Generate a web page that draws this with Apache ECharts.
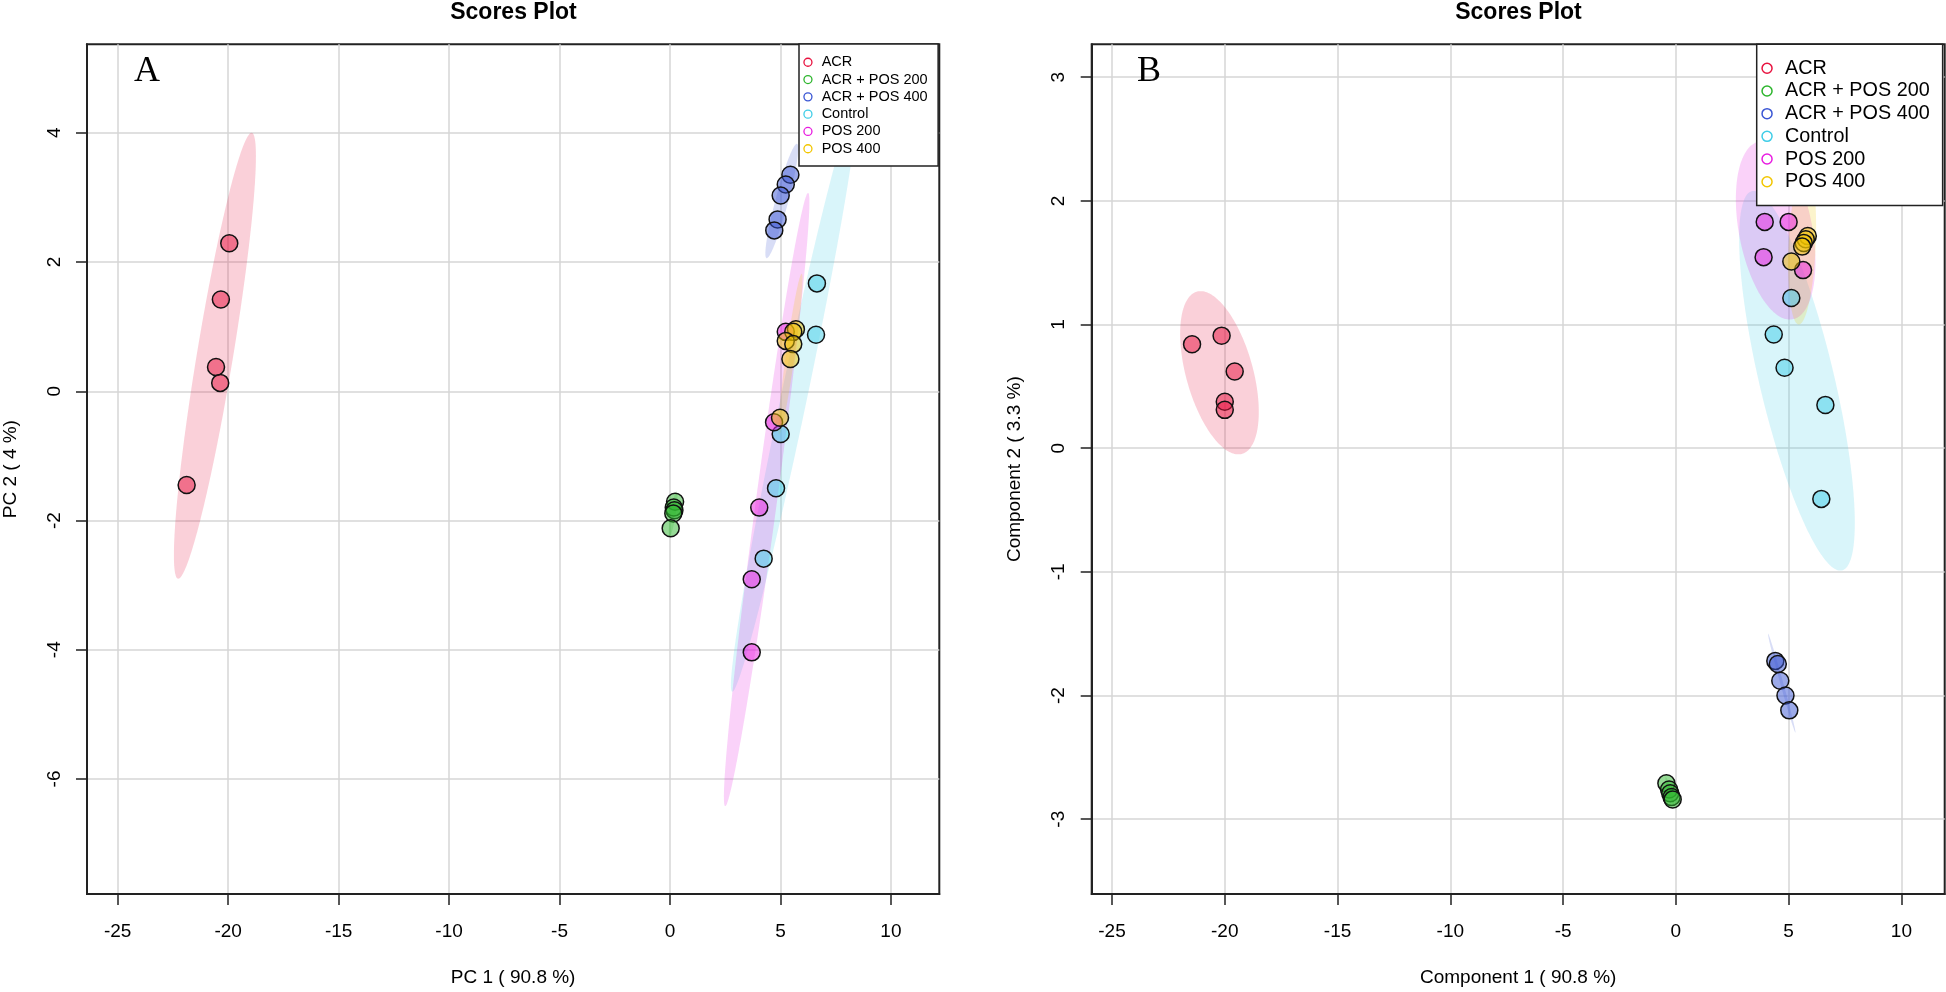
<!DOCTYPE html>
<html><head><meta charset="utf-8">
<script src="https://cdn.jsdelivr.net/npm/echarts@6/dist/echarts.min.js"></script>
<style>html,body{margin:0;padding:0;background:#fff}#c{width:1946px;height:992px}</style>
</head><body><div id="c"></div>
<script>
// ---------- data ----------
const groups = ['ACR', 'ACR + POS 200', 'ACR + POS 400', 'Control', 'POS 200', 'POS 400'];
const colors = ['#E8123F', '#2DB52D', '#3A56D4', '#3FCDE7', '#E81CE0', '#F2C600'];

const xTicks = [-25, -20, -15, -10, -5, 0, 5, 10];
const yTicksA = [-6, -4, -2, 0, 2, 4];
const yTicksB = [-3, -2, -1, 0, 1, 2, 3];

// Panel A: PCA scores [PC1, PC2]
const pcaACR        = [[-19.95, 2.29], [-20.33, 1.42], [-20.55, 0.375], [-20.36, 0.13], [-21.88, -1.45]];
const pcaACRPOS200  = [[0.23, -1.71], [0.17, -1.80], [0.20, -1.84], [0.15, -1.89], [0.03, -2.12]];
const pcaACRPOS400  = [[5.45, 3.35], [5.24, 3.20], [5.01, 3.03], [4.87, 2.66], [4.72, 2.49]];
const pcaControl    = [[6.65, 1.67], [6.61, 0.875], [5.01, -0.66], [4.80, -1.50], [4.24, -2.59]];
const pcaPOS200     = [[5.24, 0.92], [4.71, -0.48], [4.04, -1.80], [3.70, -2.91], [3.70, -4.04]];
const pcaPOS400     = [[5.70, 0.96], [5.58, 0.92], [5.24, 0.78], [5.58, 0.73], [5.45, 0.50], [4.98, -0.41]];

// Panel A ellipses: [topX, topY, bottomX, bottomY, horizontal half-width]
const pcaEllACR       = [-18.94, 4.00, -22.26, -2.90, 0.83];
const pcaEllACRPOS200 = [0.30, -1.55, -0.02, -2.25, 0.12];
const pcaEllACRPOS400 = [5.74, 3.83, 4.38, 2.06, 0.30];
const pcaEllControl   = [8.40, 4.45, 2.82, -4.65, 0.60];
const pcaEllPOS200    = [6.25, 3.07, 2.50, -6.42, 0.48];
const pcaEllPOS400    = [5.96, 1.82, 4.94, -0.67, 0.20];

// Panel B: PLS-DA scores [Component 1, Component 2]
const plsACR        = [[-21.45, 0.84], [-20.14, 0.91], [-19.56, 0.62], [-20.0, 0.376], [-20.0, 0.31]];
const plsACRPOS200  = [[-0.42, -2.71], [-0.30, -2.76], [-0.25, -2.79], [-0.19, -2.82], [-0.14, -2.84]];
const plsACRPOS400  = [[4.41, -1.72], [4.52, -1.745], [4.63, -1.88], [4.86, -2.00], [5.03, -2.12]];
const plsControl    = [[5.12, 1.215], [4.34, 0.92], [4.82, 0.65], [6.63, 0.35], [6.45, -0.41]];
const plsPOS200     = [[3.94, 1.83], [5.00, 1.83], [3.89, 1.545], [5.64, 1.44]];
const plsPOS400     = [[5.85, 1.715], [5.76, 1.69], [5.67, 1.66], [5.60, 1.63], [5.12, 1.51]];

const plsEllACR       = [-21.07, 1.27, -19.40, -0.05, 1.53];
const plsEllACRPOS200 = [-0.45, -2.66, -0.08, -2.89, 0.08];
const plsEllACRPOS400 = [4.09, -1.50, 5.30, -2.30, 0.07];
const plsEllControl   = [3.45, 2.08, 7.29, -0.99, 1.70];
const plsEllPOS200    = [3.80, 2.48, 5.05, 1.04, 1.65];
const plsEllPOS400    = [5.75, 2.28, 5.45, 1.00, 0.60];

const pcaPoints = [pcaACR, pcaACRPOS200, pcaACRPOS400, pcaControl, pcaPOS200, pcaPOS400];
const pcaElls = [pcaEllACR, pcaEllACRPOS200, pcaEllACRPOS400, pcaEllControl, pcaEllPOS200, pcaEllPOS400];
const plsPoints = [plsACR, plsACRPOS200, plsACRPOS400, plsControl, plsPOS200, plsPOS400];
const plsElls = [plsEllACR, plsEllACRPOS200, plsEllACRPOS400, plsEllControl, plsEllPOS200, plsEllPOS400];

// ---------- chart ----------
const FONT = '"Liberation Sans", Arial, Helvetica, sans-serif';
function rgba(hex, a) {
  const n = parseInt(hex.slice(1), 16);
  return 'rgba(' + ((n >> 16) & 255) + ',' + ((n >> 8) & 255) + ',' + (n & 255) + ',' + a + ')';
}
function ellipseRenderer(color) {
  return function (params, api) {
    const tx = api.value(0), ty = api.value(1), bx = api.value(2), by = api.value(3), w = api.value(4);
    const cx = (tx + bx) / 2, cy = (ty + by) / 2, ax = (tx - bx) / 2, ay = (ty - by) / 2;
    const pts = [];
    const N = 180;
    for (let i = 0; i < N; i++) {
      const t = i / N * 2 * Math.PI;
      pts.push(api.coord([cx + ax * Math.cos(t) + w * Math.sin(t), cy + ay * Math.cos(t)]));
    }
    return { type: 'polygon', shape: { points: pts }, style: { fill: rgba(color, 0.2) }, silent: true };
  };
}

function makeAxes(gi, xmin, xmax, ymin, ymax, yTicks, xName, yName) {
  const x = {
    gridIndex: gi, type: 'value', min: xmin, max: xmax,
    axisLine: { show: true, onZero: false, lineStyle: { color: '#222', width: 2 } },
    axisTick: { show: true, length: 11, customValues: xTicks, lineStyle: { color: '#222', width: 1.5 } },
    axisLabel: { customValues: xTicks, fontSize: 19, color: '#000', margin: 28, fontFamily: FONT },
    splitLine: { show: true, lineStyle: { color: '#d6d6d6', width: 1.5 } },
    name: xName, nameLocation: 'middle', nameGap: 74,
    nameTextStyle: { fontSize: 19, color: '#000', fontFamily: FONT }
  };
  const y = {
    gridIndex: gi, type: 'value', min: ymin, max: ymax,
    axisLine: { show: true, onZero: false, lineStyle: { color: '#222', width: 2 } },
    axisTick: { show: true, length: 11, customValues: yTicks, lineStyle: { color: '#222', width: 1.5 } },
    axisLabel: { customValues: yTicks, fontSize: 19, color: '#000', margin: 23, rotate: 90, fontFamily: FONT },
    splitLine: { show: true, lineStyle: { color: '#d6d6d6', width: 1.5 } },
    name: yName, nameLocation: 'middle', nameGap: 67, nameRotate: 90,
    nameTextStyle: { fontSize: 19, color: '#000', fontFamily: FONT }
  };
  return [x, y];
}

const [xA, yA] = makeAxes(0, -26.39, 12.19, -7.78, 5.37, yTicksA, 'PC 1 ( 90.8 %)', 'PC 2 ( 4 %)');
const [xB, yB] = makeAxes(1, -25.9, 11.92, -3.605, 3.266, yTicksB, 'Component 1 ( 90.8 %)', 'Component 2 ( 3.3 %)');

const series = [];
[[pcaElls, 0], [plsElls, 1]].forEach(([ells, gi]) => {
  ells.forEach((e, i) => {
    series.push({
      type: 'custom', name: groups[i], xAxisIndex: gi, yAxisIndex: gi, z: 1,
      renderItem: ellipseRenderer(colors[i]), data: [e], encode: { x: [0, 2], y: [1, 3] },
      clip: true, silent: true
    });
  });
});
[[pcaPoints, 0], [plsPoints, 1]].forEach(([pts, gi]) => {
  pts.forEach((p, i) => {
    series.push({
      type: 'scatter', name: groups[i], xAxisIndex: gi, yAxisIndex: gi, z: 2,
      symbol: 'circle', symbolSize: 17, data: p,
      itemStyle: { color: rgba(colors[i], 0.5), borderColor: '#111', borderWidth: 1.5, opacity: 1 },
      emphasis: { disabled: true }
    });
  });
});

function legendData(bw) {
  return groups.map((g, i) => ({
    name: g, icon: 'circle',
    itemStyle: { color: '#fff', borderColor: colors[i], borderWidth: bw }
  }));
}

const option = {
  animation: false,
  backgroundColor: '#fff',
  grid: [
    { left: 87, top: 44.3, width: 852.3, height: 851.7, show: true, borderColor: '#222', borderWidth: 2, backgroundColor: 'transparent' },
    { left: 1091.7, top: 44.3, width: 853, height: 851.7, show: true, borderColor: '#222', borderWidth: 2, backgroundColor: 'transparent' }
  ],
  xAxis: [xA, xB],
  yAxis: [yA, yB],
  legend: [
    {
      left: 799, top: 44, orient: 'vertical', z: 10,
      backgroundColor: '#fff', borderColor: '#222', borderWidth: 1.5, borderRadius: 0,
      padding: [9.6, 10.5, 8.5, 4.3], itemGap: 0, itemWidth: 17.4, itemHeight: 8,
      textStyle: { fontSize: 14.5, lineHeight: 17.3, color: '#000', fontFamily: FONT },
      selectedMode: false, data: legendData(1.3)
    },
    {
      left: 1756.7, top: 44.3, orient: 'vertical', z: 10,
      backgroundColor: '#fff', borderColor: '#222', borderWidth: 1.5, borderRadius: 0,
      padding: [12.6, 13, 12.5, 4.6], itemGap: 0, itemWidth: 26, itemHeight: 10,
      textStyle: { fontSize: 19.8, lineHeight: 22.7, color: '#000', fontFamily: FONT },
      selectedMode: false, data: legendData(1.5)
    }
  ],
  graphic: [
    { type: 'text', x: 513.5, y: 13, z: 20, style: { text: 'Scores Plot', font: 'bold 23px ' + FONT, align: 'center', verticalAlign: 'middle', fill: '#000' } },
    { type: 'text', x: 1518.5, y: 13, z: 20, style: { text: 'Scores Plot', font: 'bold 23px ' + FONT, align: 'center', verticalAlign: 'middle', fill: '#000' } },
    { type: 'text', x: 134, y: 72, z: 20, style: { text: 'A', font: '36px "Liberation Serif", "Times New Roman", serif', align: 'left', verticalAlign: 'middle', fill: '#000' } },
    { type: 'text', x: 1137, y: 72, z: 20, style: { text: 'B', font: '36px "Liberation Serif", "Times New Roman", serif', align: 'left', verticalAlign: 'middle', fill: '#000' } }
  ],
  series: series
};

const chart = echarts.init(document.getElementById('c'), null, { renderer: 'canvas' });
chart.setOption(option);
</script>
</body></html>
